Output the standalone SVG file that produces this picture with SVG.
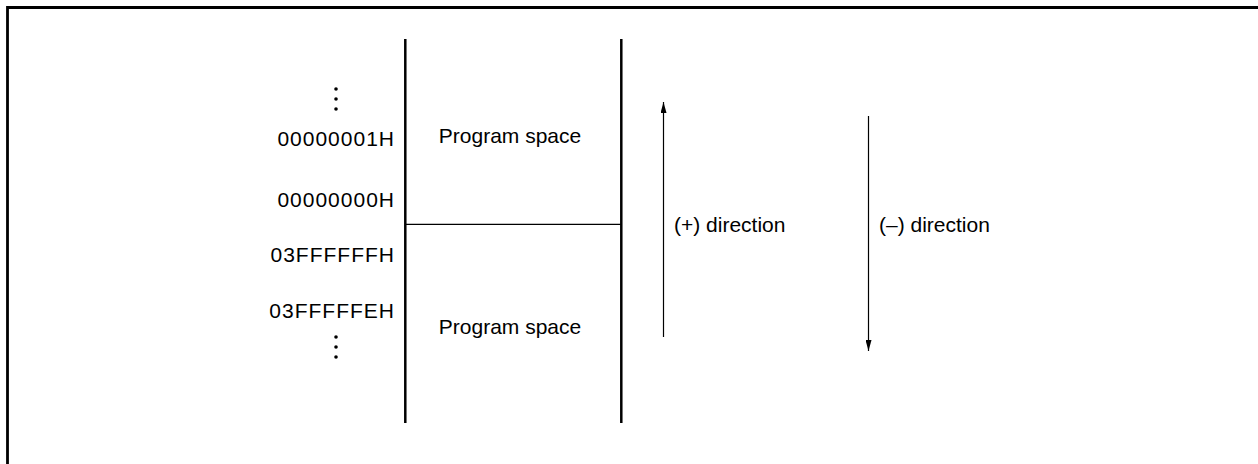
<svg xmlns="http://www.w3.org/2000/svg" width="1258" height="464" viewBox="0 0 1258 464">
<style>
text{font-family:"Liberation Sans",Arial,sans-serif;font-size:21px;fill:#000}
.addr{text-anchor:end;letter-spacing:1px}
.col{stroke:#000;stroke-width:2.5;fill:none}
.conn{stroke:#000;stroke-width:1.2;fill:none}
</style>
<defs>
<marker id="ah" markerWidth="11" markerHeight="6" refX="11" refY="3" orient="auto" markerUnits="userSpaceOnUse" viewBox="0 0 11 6">
<path d="M0,0 L11,3 L0,6 Z" fill="#000"/>
</marker>
</defs>
<rect width="1258" height="464" fill="#fff"/>
<path d="M7.5,464 V7.5 H1258" stroke="#000" stroke-width="2.8" fill="none"/>
<g id="memory">
<line class="col" x1="405.3" y1="39" x2="405.3" y2="423"/>
<line class="col" x1="621.3" y1="39" x2="621.3" y2="423"/>
<line x1="405" y1="224.3" x2="621" y2="224.3" stroke="#000" stroke-width="1.3"/>
</g>
<g id="upper-space">
<text x="510" y="143" text-anchor="middle">Program space</text>
</g>
<g id="lower-space">
<text x="510" y="334" text-anchor="middle">Program space</text>
</g>
<g id="addresses">
<circle cx="336" cy="89" r="1.8"/>
<circle cx="336" cy="99" r="1.8"/>
<circle cx="336" cy="109" r="1.8"/>
<text class="addr" x="395" y="146">00000001H</text>
<text class="addr" x="395" y="207">00000000H</text>
<text class="addr" x="395" y="262">03FFFFFFH</text>
<text class="addr" x="395" y="318">03FFFFFEH</text>
<circle cx="336" cy="337" r="1.8"/>
<circle cx="336" cy="347" r="1.8"/>
<circle cx="336" cy="357" r="1.8"/>
</g>
<g id="connectors">
<line class="conn" x1="663.5" y1="337" x2="663.5" y2="102" marker-end="url(#ah)"/>
<line class="conn" x1="868.5" y1="116" x2="868.5" y2="351" marker-end="url(#ah)"/>
</g>
<g id="plus-label">
<text x="674" y="232">(+) direction</text>
</g>
<g id="minus-label">
<text x="879" y="232">(–) direction</text>
</g>
</svg>
